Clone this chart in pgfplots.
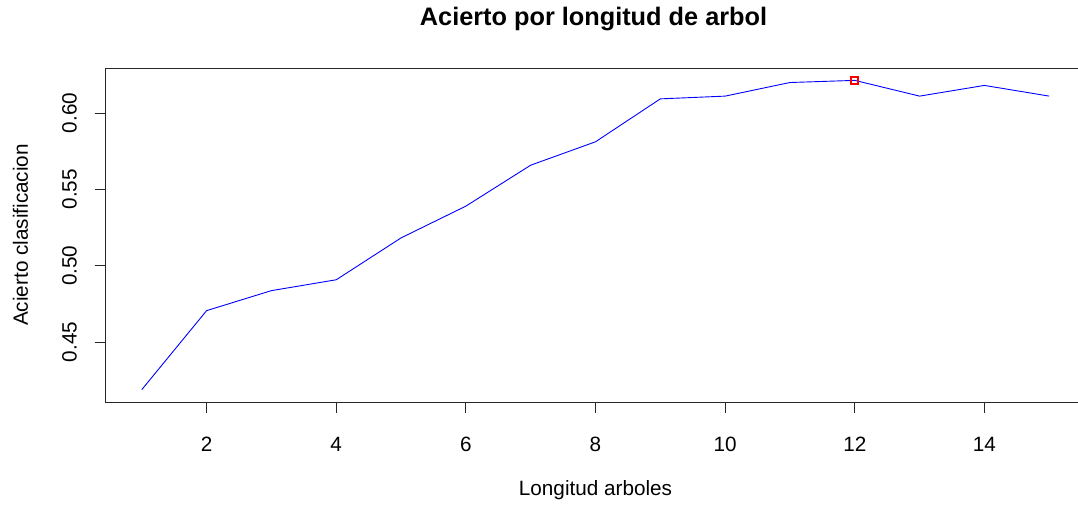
\documentclass[border=0pt]{standalone}
\usepackage{fontspec}
\setmainfont{Liberation Sans}
\usepackage{pgfplots}
\pgfplotsset{compat=1.18}

\begin{document}
\begin{tikzpicture}
% page frame: the plot box runs past the right edge of the page
\useasboundingbox (-105.5pt,-102pt) rectangle (972.5pt,402pt);
\begin{axis}[
  name=main,
  at={(0,0)}, anchor=south west,
  scale only axis,
  width=980pt, height=334pt,
  xmin=0.44, xmax=15.56,
  ymin=0.4108, ymax=0.6294,
  axis line style={line width=0.8pt, black!85},
  xtick={2,4,...,14},
  ytick={0.45,0.50,0.55,0.60},
  xtick pos=bottom, ytick pos=left,
  tick align=outside,
  major tick length=11pt,
  tick style={line width=0.8pt, black!85},
  font=\fontsize{20.7}{24}\selectfont,
  /pgf/number format/assume math mode=true,
  yticklabel={\pgfmathprintnumber[fixed,fixed zerofill,precision=2]{\tick}},
  xticklabel style={anchor=center, yshift=-31pt},
  yticklabel style={xshift=-25pt, rotate=90, anchor=center},
  every axis x label/.style={at={([yshift=-88pt]axis description cs:0.5,0)}, anchor=center},
  every axis y label/.style={at={([xshift=-85pt]axis description cs:0,0.5)}, rotate=90, anchor=center},
  xlabel={Longitud arboles},
  ylabel={Acierto clasificacion},
  title={\fontsize{25.3}{29}\selectfont\bfseries Acierto por longitud de arbol},
  every axis title/.style={at={([xshift=-2pt,yshift=49pt]axis description cs:0.5,1)}, anchor=center},
]
\addplot[blue, line width=0.9pt, mark=none] coordinates {
  (1,0.4189) (2,0.4706) (3,0.4837) (4,0.4908) (5,0.5182)
  (6,0.5390) (7,0.5658) (8,0.5811) (9,0.6092) (10,0.6110)
  (11,0.6199) (12,0.6213) (13,0.6110) (14,0.6180) (15,0.6110)
};
% best tree length
\addplot[red, only marks, mark=square, mark size=3.5pt, line width=1.6pt] coordinates {(12,0.6213)};
\end{axis}
\end{tikzpicture}
\end{document}
